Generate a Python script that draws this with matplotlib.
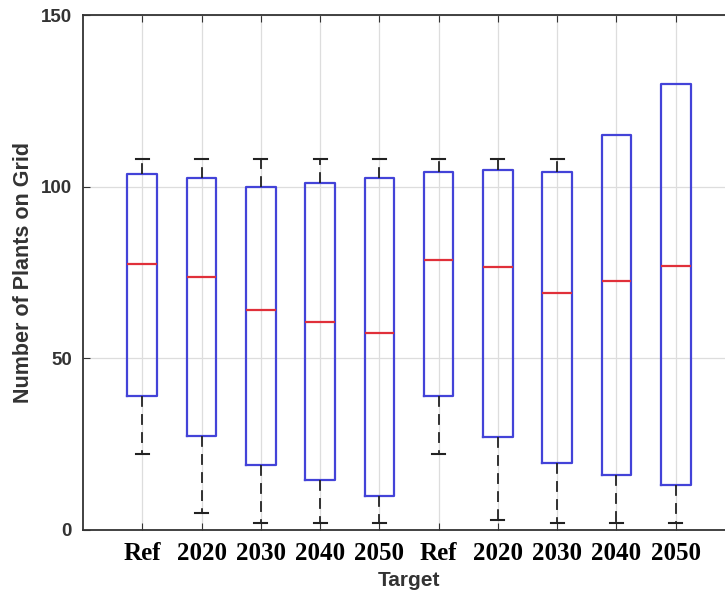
import matplotlib
matplotlib.use("Agg")
import matplotlib.pyplot as plt

categories = ["Ref", "2020", "2030", "2040", "2050", "Ref", "2020", "2030", "2040", "2050"]
whislo = [22.0, 5.0, 1.9, 1.9, 2.1, 22.0, 2.9, 2.1, 2.1, 2.1]
q1 = [39.0, 27.5, 19.0, 14.5, 10.0, 38.9, 27.1, 19.4, 16.1, 13.0]
med = [77.6, 73.7, 64.1, 60.5, 57.5, 78.6, 76.5, 68.9, 72.4, 77.0]
q3 = [103.6, 102.6, 100.0, 101.1, 102.4, 104.4, 105.0, 104.4, 115.0, 130.0]
whishi = [108.0, 108.0, 108.0, 108.0, 108.0, 108.0, 108.0, 108.0, 115.0, 130.0]
yticks = [0, 50, 100, 150]

stats = []
for lo, a, m, b, hi in zip(whislo, q1, med, q3, whishi):
    stats.append(dict(whislo=lo, q1=a, med=m, q3=b, whishi=hi, fliers=[]))

fig = plt.figure(figsize=(7.25, 5.93), dpi=100)
ax = fig.add_axes([83/725, 63/593, 652/725, 515/593])

positions = list(range(1, len(categories) + 1))
art = ax.bxp(stats, positions=positions, widths=0.5, showfliers=False,
             boxprops=dict(color="#4343d8", linewidth=1.6),
             medianprops=dict(color="#e0303a", linewidth=1.6),
             whiskerprops=dict(color="#222222", linewidth=1.3, linestyle=(0, (6, 4))),
             capprops=dict(color="#222222", linewidth=1.5),
             capwidths=0.22, zorder=3)

# upper whisker/cap hidden where the maximum coincides with the box top
for i, (b, hi) in enumerate(zip(q3, whishi)):
    if hi <= b:
        art["caps"][2 * i + 1].set_visible(False)
        art["whiskers"][2 * i + 1].set_visible(False)

ax.set_xlim(0, 11)
ax.set_ylim(0, 150)
ax.set_yticks(yticks)
ax.set_yticklabels([str(t) for t in yticks], fontsize=13.5, fontweight="bold",
                   family="Liberation Sans", color="#333333")
ax.set_xticks(positions)
ax.set_xticklabels(categories, fontsize=18, fontweight="bold", family="Liberation Serif")
ax.tick_params(axis="x", direction="in", length=5, top=True, pad=9, color="#333333")
ax.tick_params(axis="y", direction="in", length=5, right=False, pad=8, color="#333333")
ax.grid(True, color="#dddddd", linewidth=0.9, zorder=0)
ax.set_axisbelow(True)
for s in ["left", "bottom", "top"]:
    ax.spines[s].set_linewidth(1.3)
    ax.spines[s].set_color("#333333")
ax.spines["right"].set_visible(False)

ax.set_ylabel("Number of Plants on Grid", fontsize=15.5, fontweight="bold",
              family="Liberation Sans", color="#333333", labelpad=5)
ax.set_xlabel("Target", fontsize=15, fontweight="bold", family="Liberation Sans",
              color="#333333", labelpad=4)

fig.savefig("out.png", dpi=100)
